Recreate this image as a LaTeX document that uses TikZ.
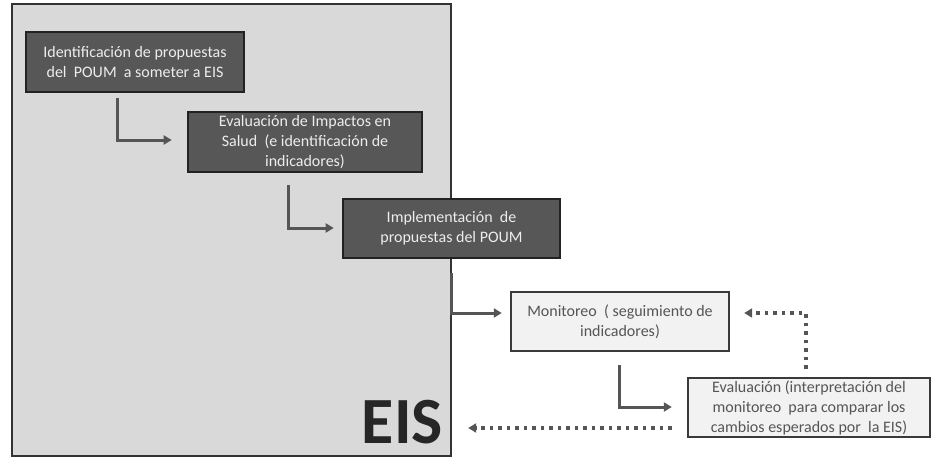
\documentclass[tikz,border=0pt]{standalone}
\usepackage{fontspec}
\setmainfont{Carlito}
\usetikzlibrary{arrows.meta,calc}
\definecolor{bigfill}{HTML}{D9D9D9}
\definecolor{bigdraw}{HTML}{333333}
\definecolor{darkfill}{HTML}{575757}
\definecolor{darkdraw}{HTML}{222222}
\definecolor{lightfill}{HTML}{F2F2F2}
\definecolor{lightdraw}{HTML}{3A3A3A}
\definecolor{lighttext}{HTML}{555555}
\definecolor{arrcol}{HTML}{555555}
\tikzset{
  bigbox/.style={draw=bigdraw, fill=bigfill, line width=2.4pt, inner sep=0pt},
  darkbox/.style={draw=darkdraw, fill=darkfill, line width=2.6pt, text=white!93!black,
    align=center, font=\fontsize{16}{20}\selectfont, inner sep=0pt},
  lightbox/.style={draw=lightdraw, fill=lightfill, line width=2.4pt, text=lighttext,
    align=center, font=\fontsize{16}{20}\selectfont, inner sep=0pt},
  arr/.style={draw=arrcol, line width=3pt, -{Triangle[length=8pt,width=9pt]}},
  dotarr/.style={draw=arrcol, line width=3.6pt, dash pattern=on 3.5pt off 5pt,
    -{Triangle[length=8pt,width=9pt]}},
}
\begin{document}
\begin{tikzpicture}[x=1pt,y=1pt]
\useasboundingbox (0,0) rectangle (934,459);
\node[bigbox, minimum width=439pt, minimum height=452pt] (eis) at (231.5,229) {};
\node[anchor=base east, inner sep=0pt, text=black!85, font=\fontsize{66}{70}\selectfont\bfseries] (eislabel) at (443,16) {EIS};

\node[darkbox, minimum width=218pt, minimum height=60pt] (b1) at (135,397)
  {Identificación de propuestas\\del\ \ POUM\ \ a someter a EIS};
\node[darkbox, minimum width=234pt, minimum height=60pt] (b2) at (305,317)
  {Evaluación de Impactos en\\Salud\ \ (e identificación de\\indicadores)};
\node[darkbox, minimum width=217pt, minimum height=59pt] (b3) at (451.5,230.5)
  {Implementación\ \ de\\propuestas del POUM};
\node[lightbox, minimum width=218pt, minimum height=59pt] (b4) at (620,137.5)
  {Monitoreo\ \ ( seguimiento de\\indicadores)};
\node[lightbox, minimum width=242pt, minimum height=59pt] (b5) at (809,51.5)
  {Evaluación (interpretación del\\monitoreo\ \ para comparar los\\cambios esperados por\ \ la EIS)};

\draw[arr] ($(b1.south)+(-18,-5)$) |- ($(b2.west)+(-15,2)$);
\draw[arr] ($(b2.south)+(-17,-12)$) |- ($(b3.west)+(-8,0.5)$);
\draw[arr] ($(b3.south)+(-0.5,-14)$) |- ($(b4.west)+(-8,8.5)$);
\draw[arr] ($(b4.south)+(-1,-13)$) |- ($(b5.west)+(-15,0.5)$);
\draw[dotarr] ($(b5.north)+(-3,8)$) |- ($(b4.east)+(14,8.5)$);
\draw[dotarr] ($(b5.west)+(-15,-20.5)$) -- ($(eis.east |- b5.west)+(16,-20.5)$);
\end{tikzpicture}
\end{document}
